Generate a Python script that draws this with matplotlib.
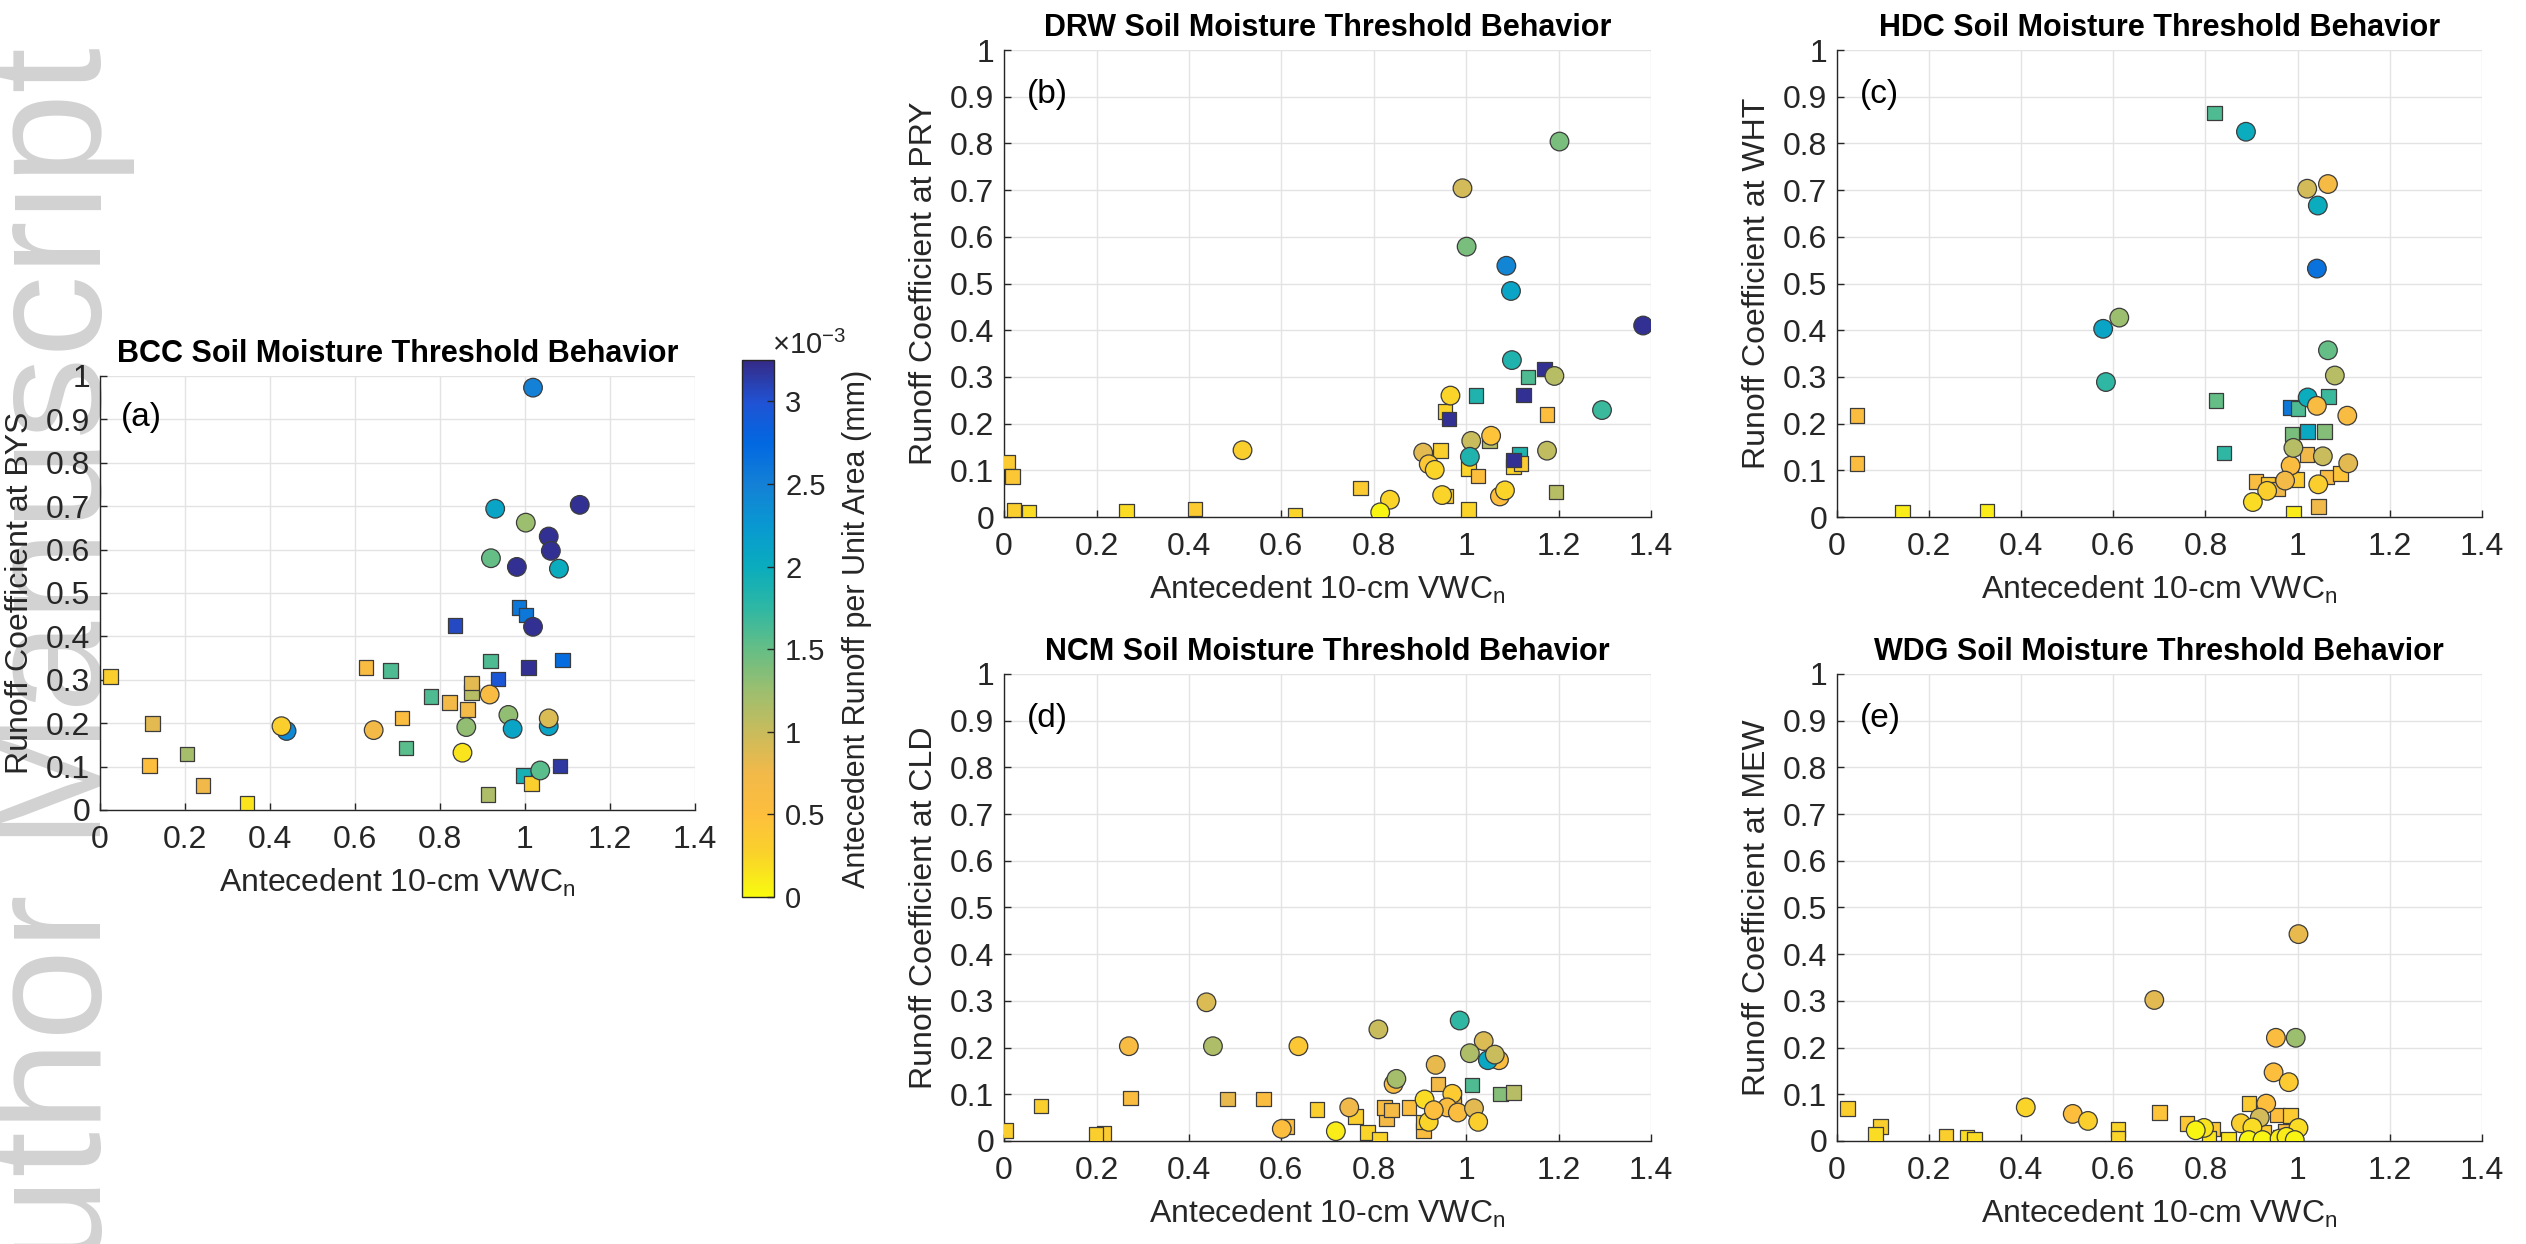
import matplotlib.pyplot as plt
from matplotlib.cm import ScalarMappable
from matplotlib.colors import LinearSegmentedColormap, Normalize

plt.rcParams['font.family'] = ['Liberation Sans', 'DejaVu Sans']
plt.rcParams['mathtext.fontset'] = 'custom'
plt.rcParams['mathtext.rm'] = 'Liberation Sans'

# MATLAB parula, sampled; used flipped (0 -> yellow, max -> dark purple)
PARULA = [(0.2081, 0.1663, 0.5292), (0.1253, 0.3242, 0.8303), (0.0060, 0.4086, 0.8828),
          (0.0779, 0.5040, 0.8384), (0.0343, 0.5966, 0.8199), (0.0384, 0.6743, 0.7436),
          (0.1801, 0.7177, 0.6424), (0.3953, 0.7459, 0.5244), (0.6099, 0.7473, 0.4337),
          (0.7858, 0.7356, 0.3633), (0.9450, 0.7261, 0.2886), (0.9938, 0.7455, 0.2403),
          (0.9789, 0.8271, 0.1633), (0.9763, 0.9831, 0.0538)]
parula_r = LinearSegmentedColormap.from_list('parula_r', PARULA[::-1])
norm = Normalize(0, 3.25)  # antecedent runoff, x1e-3 mm

# --- data: antecedent VWC_n, runoff coefficient, antecedent runoff (x1e-3 mm)
bcc_circ_vwc = [1.019, 0.930, 1.129, 1.002, 1.056, 1.061, 0.920, 0.981, 1.080, 1.019, 0.917,
                0.961, 1.056, 1.056, 0.971, 0.862, 0.644, 0.439, 0.427, 0.853, 1.036]
bcc_circ_rc = [0.973, 0.694, 0.703, 0.662, 0.630, 0.597, 0.580, 0.560, 0.556, 0.422, 0.266,
               0.219, 0.193, 0.211, 0.187, 0.191, 0.184, 0.182, 0.193, 0.132, 0.091]
bcc_circ_ro = [2.5, 2.1, 3.2, 1.25, 3.2, 3.2, 1.5, 3.2, 2.0, 3.2, 0.6,
               1.3, 2.1, 0.9, 2.1, 1.3, 0.7, 2.4, 0.3, 0.15, 1.55]
bcc_sq_vwc = [0.025, 0.123, 0.116, 0.205, 0.242, 0.346, 0.626, 0.683, 0.711, 0.720, 0.779, 0.823, 0.835,
              0.865, 0.874, 0.874, 0.919, 0.937, 0.986, 1.002, 1.009, 1.088, 1.083, 0.996, 1.015, 0.913]
bcc_sq_rc = [0.308, 0.199, 0.103, 0.129, 0.057, 0.016, 0.328, 0.321, 0.212, 0.143, 0.261, 0.248, 0.425,
             0.232, 0.270, 0.293, 0.343, 0.302, 0.466, 0.449, 0.328, 0.346, 0.101, 0.080, 0.061, 0.036]
bcc_sq_ro = [0.3, 0.85, 0.5, 1.2, 0.75, 0.15, 0.6, 1.6, 0.55, 1.55, 1.6, 0.7, 3.05,
             0.7, 1.1, 0.85, 1.6, 2.95, 2.6, 2.6, 3.2, 2.7, 3.15, 1.9, 0.3, 1.15]

drw_circ_vwc = [0.992, 1.202, 1.383, 0.516, 1.001, 1.087, 1.097, 1.099, 1.191, 1.294, 0.966, 1.054,
                1.011, 1.008, 0.907, 0.919, 0.932, 1.175, 0.948, 1.073, 1.084, 0.835, 0.814]
drw_circ_rc = [0.704, 0.804, 0.410, 0.143, 0.579, 0.538, 0.484, 0.336, 0.302, 0.229, 0.260, 0.174,
               0.163, 0.129, 0.138, 0.113, 0.101, 0.142, 0.047, 0.044, 0.057, 0.037, 0.010]
drw_circ_ro = [0.95, 1.4, 3.2, 0.3, 1.4, 2.45, 2.1, 1.85, 1.1, 1.7, 0.25, 0.45,
               1.0, 1.85, 0.85, 0.4, 0.25, 1.05, 0.25, 0.5, 0.25, 0.25, 0.05]
drw_sq_vwc = [0.008, 0.018, 0.021, 0.054, 0.265, 0.413, 0.630, 0.771, 0.945, 0.956, 1.005, 1.005, 1.026,
              1.050, 0.954, 0.963, 1.021, 1.134, 1.169, 1.124, 1.175, 1.115, 1.103, 1.119, 1.103, 1.194]
drw_sq_rc = [0.118, 0.087, 0.015, 0.010, 0.013, 0.017, 0.004, 0.062, 0.142, 0.045, 0.104, 0.016, 0.088,
             0.164, 0.226, 0.210, 0.260, 0.300, 0.317, 0.261, 0.220, 0.135, 0.108, 0.115, 0.122, 0.054]
drw_sq_ro = [0.35, 0.4, 0.3, 0.2, 0.2, 0.35, 0.25, 0.35, 0.3, 0.3, 0.25, 0.25, 0.5,
             1.1, 0.25, 3.2, 1.85, 1.6, 3.2, 3.2, 0.5, 1.85, 0.25, 0.35, 3.2, 1.1]

hdc_circ_vwc = [0.888, 1.021, 1.066, 1.044, 1.042, 0.578, 0.613, 0.584, 1.066, 1.081, 1.022,
                1.042, 1.108, 0.985, 0.991, 1.055, 1.110, 0.973, 0.934, 0.903, 1.045]
hdc_circ_rc = [0.825, 0.703, 0.713, 0.667, 0.532, 0.403, 0.427, 0.289, 0.357, 0.303, 0.256,
               0.238, 0.217, 0.110, 0.148, 0.130, 0.115, 0.078, 0.056, 0.032, 0.070]
hdc_circ_ro = [2.0, 0.95, 0.65, 2.0, 2.65, 2.1, 1.25, 1.75, 1.5, 1.1, 2.0,
               0.6, 0.6, 0.55, 1.1, 1.0, 0.85, 0.7, 0.3, 0.2, 0.3]
hdc_sq_vwc = [0.820, 0.823, 0.840, 0.985, 1.001, 1.067, 1.022, 1.058, 0.988, 1.021, 0.985, 0.998,
              0.910, 0.936, 0.957, 1.064, 1.093, 1.045, 0.991, 0.044, 0.044, 0.142, 0.326]
hdc_sq_rc = [0.865, 0.250, 0.137, 0.234, 0.232, 0.258, 0.183, 0.183, 0.178, 0.134, 0.102, 0.080,
             0.076, 0.071, 0.060, 0.086, 0.093, 0.022, 0.008, 0.217, 0.114, 0.010, 0.012]
hdc_sq_ro = [1.6, 1.5, 1.75, 2.6, 1.6, 1.7, 2.05, 1.35, 1.4, 0.75, 1.6, 0.35,
             0.55, 0.4, 0.75, 0.6, 0.45, 0.75, 0.1, 0.55, 0.55, 0.1, 0.1]

ncm_circ_vwc = [0.438, 0.270, 0.452, 0.637, 0.601, 0.718, 0.810, 0.986, 1.038, 1.071, 1.008, 1.047, 1.062,
                0.934, 0.843, 0.849, 0.747, 0.910, 0.970, 0.919, 0.959, 0.982, 0.930, 1.017, 1.026]
ncm_circ_rc = [0.297, 0.203, 0.203, 0.203, 0.026, 0.021, 0.239, 0.258, 0.214, 0.173, 0.188, 0.173, 0.185,
               0.163, 0.122, 0.133, 0.072, 0.089, 0.101, 0.041, 0.072, 0.061, 0.066, 0.070, 0.041]
ncm_circ_ro = [0.9, 0.6, 1.15, 0.4, 0.5, 0.1, 1.0, 1.75, 0.9, 0.55, 1.15, 2.05, 1.0,
               0.8, 0.6, 1.2, 0.75, 0.2, 0.35, 0.25, 0.55, 0.55, 0.5, 0.85, 0.3]
ncm_sq_vwc = [0.003, 0.080, 0.216, 0.199, 0.274, 0.483, 0.562, 0.612, 0.677, 0.761, 0.787, 0.813,
              0.828, 0.823, 0.838, 0.876, 0.939, 0.908, 0.908, 1.013, 0.973, 0.973, 1.074, 1.102]
ncm_sq_rc = [0.023, 0.075, 0.016, 0.014, 0.092, 0.090, 0.090, 0.031, 0.068, 0.052, 0.018, 0.003,
             0.048, 0.072, 0.066, 0.072, 0.122, 0.023, 0.041, 0.120, 0.073, 0.094, 0.101, 0.104]
ncm_sq_ro = [0.3, 0.3, 0.35, 0.3, 0.55, 0.8, 0.55, 0.5, 0.3, 0.3, 0.25, 0.25,
             0.7, 0.55, 0.65, 0.55, 0.7, 0.55, 0.35, 1.6, 2.2, 0.75, 1.35, 1.1]

wdg_circ_vwc = [1.002, 0.689, 0.953, 0.996, 0.948, 0.981, 0.932, 0.410, 0.512, 0.545, 0.877,
                0.918, 0.902, 1.002, 0.797, 0.779, 0.894, 0.924, 0.961, 0.976, 0.994]
wdg_circ_rc = [0.443, 0.302, 0.221, 0.221, 0.147, 0.126, 0.080, 0.072, 0.058, 0.043, 0.038,
               0.050, 0.029, 0.028, 0.028, 0.023, 0.002, 0.002, 0.005, 0.009, 0.002]
wdg_circ_ro = [0.8, 0.85, 0.55, 1.25, 0.5, 0.35, 0.5, 0.25, 0.5, 0.3, 0.3,
               0.95, 0.2, 0.2, 0.15, 0.05, 0.05, 0.05, 0.1, 0.1, 0.05]
wdg_sq_vwc = [0.023, 0.095, 0.084, 0.237, 0.282, 0.299, 0.610, 0.610, 0.700, 0.760,
              0.815, 0.808, 0.850, 0.895, 0.957, 0.985, 0.926, 0.973, 0.963]
wdg_sq_rc = [0.069, 0.031, 0.014, 0.010, 0.008, 0.003, 0.025, 0.005, 0.061, 0.038,
             0.026, 0.005, 0.003, 0.080, 0.056, 0.054, 0.018, 0.020, 0.008]
wdg_sq_ro = [0.3, 0.3, 0.2, 0.3, 0.2, 0.2, 0.25, 0.25, 0.45, 0.4,
             0.4, 0.15, 0.15, 0.35, 0.5, 0.35, 0.35, 0.5, 0.3]

x_ticks = [0, 0.2, 0.4, 0.6, 0.8, 1.0, 1.2, 1.4]
y_ticks = [0, 0.1, 0.2, 0.3, 0.4, 0.5, 0.6, 0.7, 0.8, 0.9, 1.0]
cbar_ticks = [0, 0.5, 1, 1.5, 2, 2.5, 3]

DARK = '#262626'


def draw_panel(ax, site, gauge, tag, circles, squares):
    for (x, y, c), marker, size in ((squares, 's', 110), (circles, 'o', 180)):
        ax.scatter(x, y, c=c, cmap=parula_r, norm=norm, marker=marker, s=size,
                   edgecolors='#3c3c3c', linewidths=0.9, zorder=3)
    ax.set_xlim(0, 1.4)
    ax.set_ylim(0, 1)
    ax.set_xticks(x_ticks, [f'{v:g}' for v in x_ticks])
    ax.set_yticks(y_ticks, [f'{v:g}' for v in y_ticks])
    ax.grid(True, color='#e3e3e3', linewidth=1.0, zorder=0)
    ax.set_axisbelow(True)
    ax.patch.set_alpha(0)
    for side in ('top', 'right'):
        ax.spines[side].set_visible(False)
    for side in ('left', 'bottom'):
        ax.spines[side].set_color(DARK)
        ax.spines[side].set_linewidth(1.0)
    ax.tick_params(direction='in', length=5, width=1, colors=DARK, labelsize=23)
    ax.tick_params(axis='x', pad=11)
    ax.tick_params(axis='y', pad=7)
    ax.set_xlabel('Antecedent 10-cm VWC$_\\mathrm{n}$', fontsize=23, color=DARK, labelpad=8)
    ax.set_ylabel(f'Runoff Coefficient at {gauge}', fontsize=23, color=DARK, labelpad=8)
    ax.set_title(f'{site} Soil Moisture Threshold Behavior', fontsize=22,
                 fontweight='bold', pad=10)
    ax.text(0.035, 0.905, tag, transform=ax.transAxes, fontsize=24, va='center', ha='left')


fig = plt.figure(figsize=(25.26, 12.44), dpi=100)
fig.patch.set_facecolor('white')

# watermark, behind everything
fig.text(0.040, 0.962, 'Author Manuscript', rotation=90, rotation_mode='anchor',
         ha='right', va='baseline', fontsize=118, color='#d2d2d2', zorder=-5)

ax_a = fig.add_axes([0.0396, 0.3489, 0.2355, 0.3489])
ax_b = fig.add_axes([0.3975, 0.5844, 0.2561, 0.3754])
ax_c = fig.add_axes([0.7272, 0.5844, 0.2553, 0.3754])
ax_d = fig.add_axes([0.3975, 0.0828, 0.2561, 0.3754])
ax_e = fig.add_axes([0.7272, 0.0828, 0.2553, 0.3754])

draw_panel(ax_a, 'BCC', 'BYS', '(a)', (bcc_circ_vwc, bcc_circ_rc, bcc_circ_ro),
           (bcc_sq_vwc, bcc_sq_rc, bcc_sq_ro))
draw_panel(ax_b, 'DRW', 'PRY', '(b)', (drw_circ_vwc, drw_circ_rc, drw_circ_ro),
           (drw_sq_vwc, drw_sq_rc, drw_sq_ro))
draw_panel(ax_c, 'HDC', 'WHT', '(c)', (hdc_circ_vwc, hdc_circ_rc, hdc_circ_ro),
           (hdc_sq_vwc, hdc_sq_rc, hdc_sq_ro))
draw_panel(ax_d, 'NCM', 'CLD', '(d)', (ncm_circ_vwc, ncm_circ_rc, ncm_circ_ro),
           (ncm_sq_vwc, ncm_sq_rc, ncm_sq_ro))
draw_panel(ax_e, 'WDG', 'MEW', '(e)', (wdg_circ_vwc, wdg_circ_rc, wdg_circ_ro),
           (wdg_sq_vwc, wdg_sq_rc, wdg_sq_ro))

# colorbar
cax = fig.add_axes([0.2937, 0.2789, 0.0127, 0.4317])
cb = fig.colorbar(ScalarMappable(norm=norm, cmap=parula_r), cax=cax)
cb.set_ticks(cbar_ticks, labels=[f'{v:g}' for v in cbar_ticks])
cb.ax.tick_params(direction='in', length=5, width=1, colors=DARK, labelsize=21, pad=8)
cb.outline.set_edgecolor(DARK)
cb.outline.set_linewidth(1.0)
cb.set_label('Antecedent Runoff per Unit Area (mm)', fontsize=22, color=DARK, labelpad=12)
fig.text(0.3055, 0.722, r'$\times10^{-3}$', fontsize=21, color=DARK, ha='left', va='center')

fig.savefig('out.png', dpi=100)
